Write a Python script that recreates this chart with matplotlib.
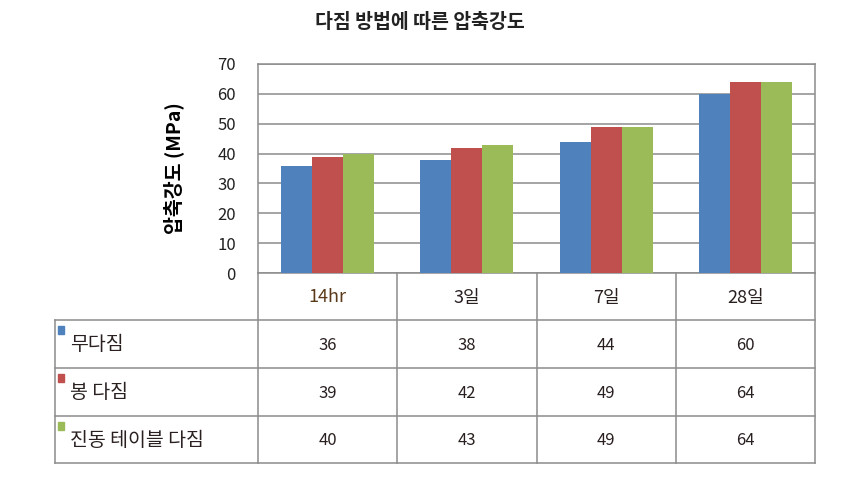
import matplotlib
matplotlib.use("Agg")
import matplotlib.pyplot as plt
import numpy as np

plt.rcParams['font.family'] = ['Noto Sans CJK KR', 'DejaVu Sans']

categories = ["14hr", "3일", "7일", "28일"]
series_names = ["무다짐", "봉 다짐", "진동 테이블 다짐"]
no_compact = [36, 38, 44, 60]
rod_compact = [39, 42, 49, 64]
table_compact = [40, 43, 49, 64]
colors = ["#4F81BD", "#C0504D", "#9BBB59"]
yticks = [0, 10, 20, 30, 40, 50, 60, 70]

W, H = 842, 483
fig = plt.figure(figsize=(W / 100, H / 100), dpi=100)

# plot area in pixels
left, right, top, bottom = 258, 815, 64, 273
ax = fig.add_axes([left / W, 1 - bottom / H, (right - left) / W, (bottom - top) / H])

x = np.arange(len(categories))
bw = 0.223
for k, vals in enumerate([no_compact, rod_compact, table_compact]):
    ax.bar(x + (k - 1) * bw, vals, width=bw, color=colors[k], zorder=3)

ax.set_xlim(-0.5, len(categories) - 0.5)
ax.set_ylim(0, 70)
ax.set_yticks(yticks)
ax.set_yticklabels([str(t) for t in yticks], fontsize=12, color="#222222")
ax.set_xticks([])
ax.yaxis.grid(True, color="#8c8c8c", linewidth=1.1, zorder=0)
for s in ax.spines.values():
    s.set_color("#8c8c8c")
    s.set_linewidth(1.1)
ax.tick_params(axis="y", length=0, pad=16)
ax.set_ylabel("압축강도 (MPa)", fontsize=14, fontweight="bold", labelpad=24)

fig.text(420 / W, 1 - 22 / H, "다짐 방법에 따른 압축강도", ha="center", va="center",
         fontsize=14, fontweight="bold", color="#222222")

# data table below the plot, in pixel coordinates
tb = fig.add_axes([0, 0, 1, 1])
tb.set_xlim(0, W)
tb.set_ylim(H, 0)
tb.axis("off")

col_w = (right - left) / len(categories)
col_edges = [left + i * col_w for i in range(len(categories) + 1)]
label_left = 55
row_edges = [273, 320, 368, 416, 463]
gc = "#8c8c8c"

for xe in col_edges:
    tb.plot([xe, xe], [row_edges[0], row_edges[-1]], color=gc, lw=1.1)
tb.plot([label_left, label_left], [row_edges[1], row_edges[-1]], color=gc, lw=1.1)
for ye in row_edges[1:]:
    tb.plot([label_left, right], [ye, ye], color=gc, lw=1.1)

for i, c in enumerate(categories):
    tb.text((col_edges[i] + col_edges[i + 1]) / 2, (row_edges[0] + row_edges[1]) / 2 + 1, c,
            ha="center", va="center", fontsize=13,
            color="#5a3a1a" if i == 0 else "#2a2020")

for r, (name, vals) in enumerate(zip(series_names, [no_compact, rod_compact, table_compact])):
    y0, y1 = row_edges[r + 1], row_edges[r + 2]
    yc = (y0 + y1) / 2
    tb.add_patch(plt.Rectangle((58, y0 + 6), 6, 8, color=colors[r]))
    tb.text(70, yc + 1, name, ha="left", va="center", fontsize=14, color="#2a2020")
    for i, v in enumerate(vals):
        tb.text((col_edges[i] + col_edges[i + 1]) / 2, yc + 1, str(v),
                ha="center", va="center", fontsize=12, color="#2a2020")

fig.savefig("out.png", dpi=100)
